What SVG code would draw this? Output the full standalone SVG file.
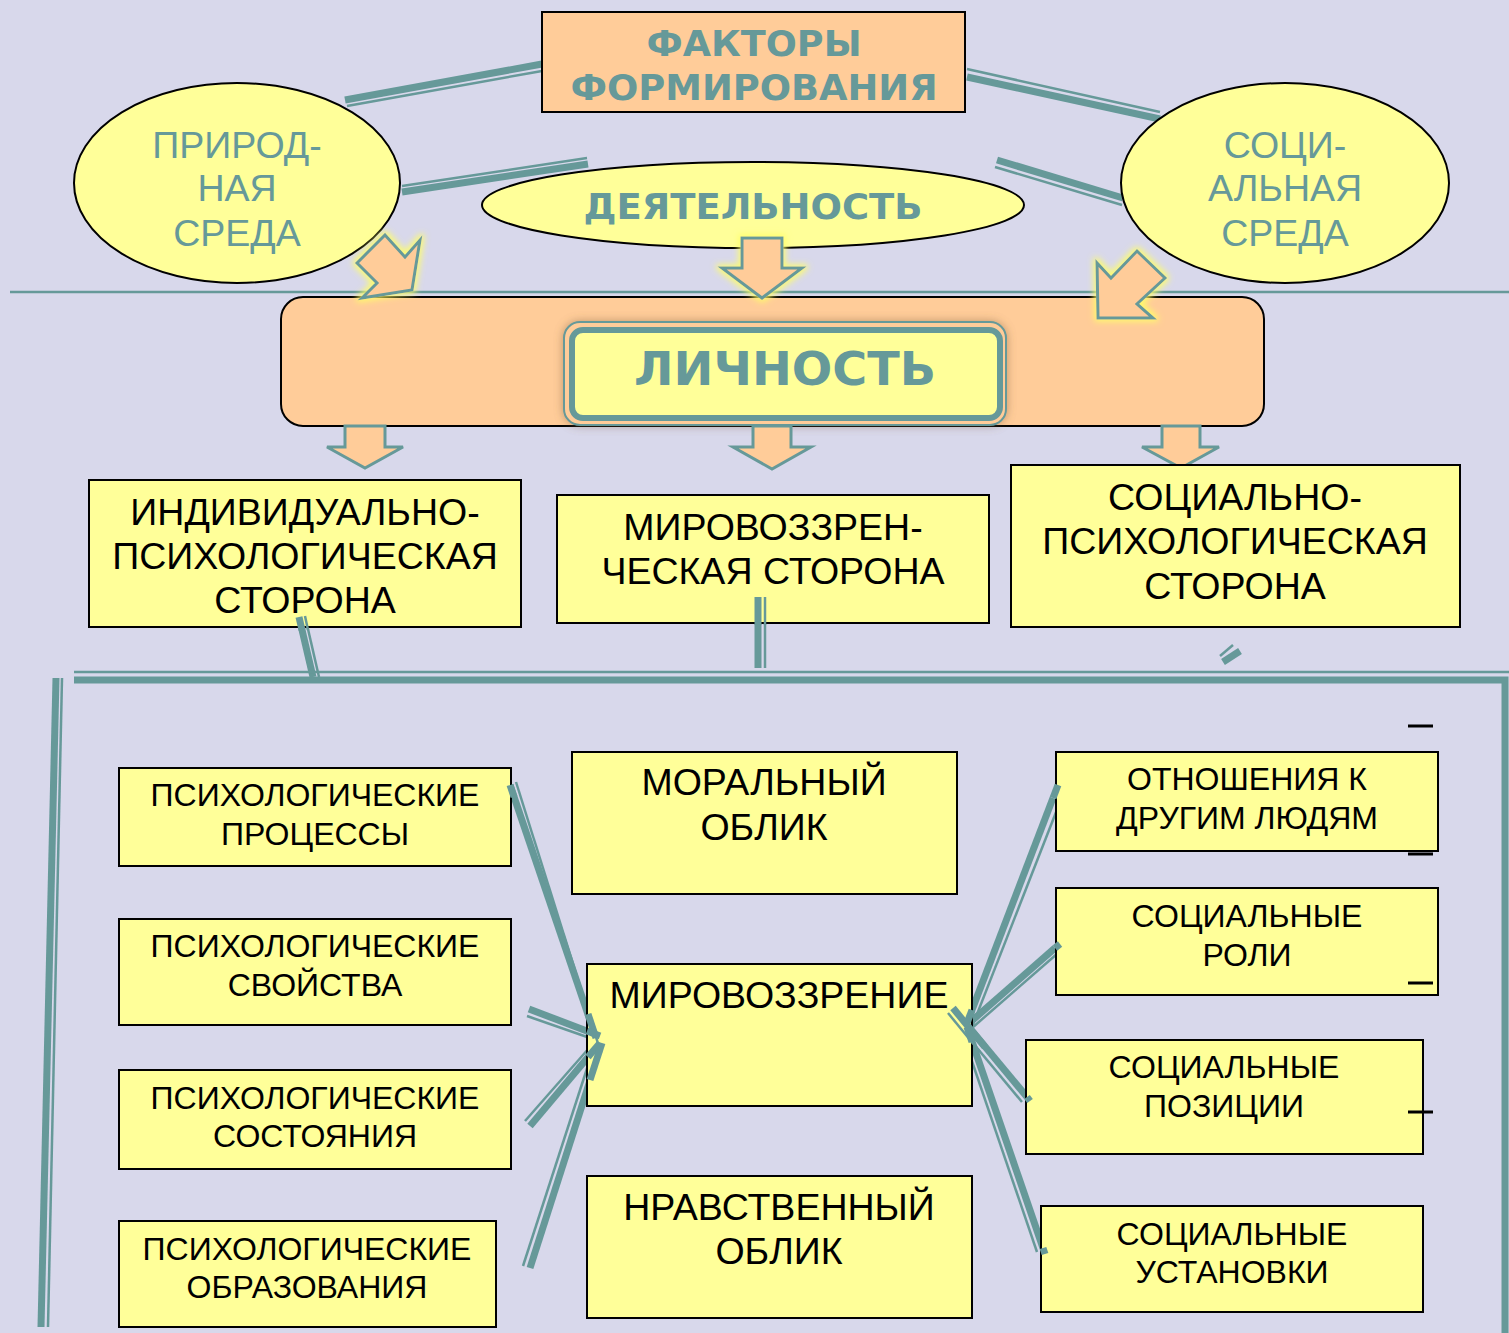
<svg xmlns="http://www.w3.org/2000/svg" width="1509" height="1333" viewBox="0 0 1509 1333">
<defs>
<style>
.bg{fill:#D8D8EB}
.box{fill:#FFFF99;stroke:#000;stroke-width:2}
.peach{fill:#FFCC99;stroke:#000;stroke-width:2}
.ell{fill:#FFFF99;stroke:#000;stroke-width:2}
.thick{stroke:#669999;stroke-width:7;fill:none}
.thin{stroke:#669999;stroke-width:2.5;fill:none}
.arr{fill:#FFCC99;stroke:#669999;stroke-width:3;stroke-linejoin:miter}
.t{font-family:"Liberation Sans",Arial,sans-serif;fill:#000;text-anchor:middle}
.big{font-size:37.5px}
.sm{font-size:32px}
.tl{font-family:"Liberation Sans",Arial,sans-serif;fill:#669999;text-anchor:middle;font-size:37.5px}
.tb{font-family:"DejaVu Sans","Liberation Sans",sans-serif;font-weight:bold;fill:#669999;text-anchor:middle}
.dash{stroke:#000;stroke-width:3}
</style>
<filter id="glow" x="-40%" y="-40%" width="180%" height="180%">
<feMorphology in="SourceAlpha" operator="dilate" radius="2" result="d"/>
<feGaussianBlur in="d" stdDeviation="3" result="b"/>
<feFlood flood-color="#FFFF66" flood-opacity="0.9"/>
<feComposite in2="b" operator="in" result="g"/>
<feMerge><feMergeNode in="g"/><feMergeNode in="SourceGraphic"/></feMerge>
</filter>
<filter id="shadow" x="-10%" y="-20%" width="120%" height="140%">
<feGaussianBlur in="SourceAlpha" stdDeviation="5" result="b"/>
<feFlood flood-color="#806040" flood-opacity="0.5"/>
<feComposite in2="b" operator="in" result="s"/>
<feMerge><feMergeNode in="s"/><feMergeNode in="SourceGraphic"/></feMerge>
</filter>
</defs>
<rect class="bg" x="0" y="0" width="1509" height="1333"/>
<line x1="10" y1="292" x2="1509" y2="292" class="thin" stroke-width="2"/>

<g id="connectors">
<line class="thick" x1="345" y1="100" x2="542" y2="64"/>
<line class="thin" x1="347" y1="106" x2="542" y2="71"/>
<line class="thin" x1="967" y1="69" x2="1160" y2="112"/>
<line class="thick" x1="967" y1="77" x2="1160" y2="119"/>
<line class="thin" x1="402" y1="186" x2="587" y2="158"/>
<line class="thick" x1="402" y1="192" x2="588" y2="164"/>
<line class="thick" x1="997" y1="160" x2="1123" y2="198"/>
<line class="thin" x1="995" y1="167" x2="1122" y2="205"/>
<line class="thick" x1="299" y1="617" x2="313" y2="677"/>
<line class="thin" x1="305" y1="616" x2="319" y2="677"/>
<line class="thick" x1="758" y1="597" x2="758" y2="668"/>
<line class="thin" x1="765" y1="597" x2="765" y2="668"/>
<line class="thick" x1="1223" y1="662" x2="1240" y2="651"/>
<line class="thin" x1="1220" y1="656" x2="1233" y2="645"/>
<line class="thin" x1="74" y1="672" x2="1509" y2="672"/>
<path class="thick" d="M74 680 H1505 V1333"/>
<line class="thick" x1="56" y1="678" x2="41" y2="1327"/>
<line class="thin" x1="62" y1="678" x2="48" y2="1327"/>
<line class="thick" x1="510" y1="785" x2="596" y2="1038"/>
<line class="thin" x1="516" y1="782" x2="601" y2="1053"/>
<line class="thick" x1="529" y1="1009" x2="600" y2="1036"/>
<line class="thin" x1="527" y1="1016" x2="590" y2="1038"/>
<line class="thick" x1="530" y1="1126" x2="600" y2="1043"/>
<line class="thin" x1="525" y1="1121" x2="590" y2="1047"/>
<line class="thick" x1="530" y1="1268" x2="602" y2="1043"/>
<line class="thin" x1="523" y1="1266" x2="593" y2="1050"/>
<line class="thick" x1="1053" y1="798" x2="967" y2="1023"/>
<line class="thin" x1="1060" y1="802" x2="972" y2="1027"/>
<line class="thick" x1="1055" y1="948" x2="967" y2="1025"/>
<line class="thin" x1="1058" y1="953" x2="972" y2="1028"/>
<line class="thick" x1="953" y1="1008" x2="1027" y2="1097"/>
<line class="thin" x1="948" y1="1013" x2="1022" y2="1102"/>
<line class="thick" x1="967" y1="1027" x2="1043" y2="1248"/>
<line class="thin" x1="962" y1="1032" x2="1037" y2="1252"/>
</g>

<g id="factors">
<rect class="peach" x="542" y="12" width="423" height="100"/>
<text class="tb" x="754" y="56" font-size="36" textLength="215" lengthAdjust="spacingAndGlyphs">ФАКТОРЫ</text>
<text class="tb" x="754" y="100" font-size="36" textLength="367" lengthAdjust="spacingAndGlyphs">ФОРМИРОВАНИЯ</text>
</g>

<g id="natural">
<ellipse class="ell" cx="237" cy="183" rx="163" ry="100"/>
<text class="tl" x="237" y="158">ПРИРОД-</text>
<text class="tl" x="237" y="201">НАЯ</text>
<text class="tl" x="237" y="246">СРЕДА</text>
</g>

<g id="social">
<ellipse class="ell" cx="1285" cy="183" rx="164" ry="100"/>
<text class="tl" x="1285" y="158">СОЦИ-</text>
<text class="tl" x="1285" y="201">АЛЬНАЯ</text>
<text class="tl" x="1285" y="246">СРЕДА</text>
</g>

<g id="activity">
<ellipse class="ell" cx="753" cy="205" rx="271" ry="43"/>
<text class="tb" x="753" y="219" font-size="36" textLength="339" lengthAdjust="spacingAndGlyphs">ДЕЯТЕЛЬНОСТЬ</text>
</g>

<g id="personality">
<rect class="peach" x="281" y="297" width="983" height="129" rx="22"/>
<g filter="url(#shadow)">
<rect x="564" y="322" width="442" height="103" rx="16" fill="#FFCC99" stroke="#669999" stroke-width="2"/>
</g>
<rect x="572" y="330" width="428" height="88" rx="11" fill="#FFFF99" stroke="#669999" stroke-width="6"/>
<text class="tb" x="785" y="385" font-size="46" textLength="302" lengthAdjust="spacingAndGlyphs">ЛИЧНОСТЬ</text>
</g>

<g id="arrows" filter="url(#glow)">
<polygon class="arr" points="742,238 782,238 782,268 802,268 762,298 722,268 742,268"/>
<polygon class="arr" points="385,235 405,257 420,240 412,290 362,298 377,283 357,263"/>
<polygon class="arr" points="1137,251 1165,278 1137,304 1153,318 1098,318 1097,263 1111,278"/>
</g>
<g id="arrows-down">
<polygon class="arr" points="345,426 385,426 385,447 403,447 365,468 327,447 345,447"/>
<polygon class="arr" points="753,426 791,426 791,447 811,447 772,469 733,447 753,447"/>
<polygon class="arr" points="1162,426 1200,426 1200,447 1219,447 1181,468 1142,447 1162,447"/>
</g>

<g id="individual">
<rect class="box" x="89" y="480" width="432" height="147"/>
<text class="t big" x="305" y="525">ИНДИВИДУАЛЬНО-</text>
<text class="t big" x="305" y="569">ПСИХОЛОГИЧЕСКАЯ</text>
<text class="t big" x="305" y="613">СТОРОНА</text>
</g>
<g id="worldview-side">
<rect class="box" x="557" y="495" width="432" height="128"/>
<text class="t big" x="773" y="540">МИРОВОЗЗРЕН-</text>
<text class="t big" x="773" y="584">ЧЕСКАЯ СТОРОНА</text>
</g>
<g id="socpsy">
<rect class="box" x="1011" y="465" width="449" height="162"/>
<text class="t big" x="1235" y="510">СОЦИАЛЬНО-</text>
<text class="t big" x="1235" y="554">ПСИХОЛОГИЧЕСКАЯ</text>
<text class="t big" x="1235" y="599">СТОРОНА</text>
</g>
<g id="stubs">
<line class="thick" x1="299" y1="617" x2="302" y2="630"/>
<line class="thin" x1="305" y1="616" x2="308" y2="630"/>
<line class="thick" x1="758" y1="597" x2="758" y2="625"/>
<line class="thin" x1="765" y1="597" x2="765" y2="625"/>
</g>

<g id="proc">
<rect class="box" x="119" y="768" width="392" height="98"/>
<text class="t sm" x="315" y="806">ПСИХОЛОГИЧЕСКИЕ</text>
<text class="t sm" x="315" y="845">ПРОЦЕССЫ</text>
</g>
<g id="props">
<rect class="box" x="119" y="919" width="392" height="106"/>
<text class="t sm" x="315" y="957">ПСИХОЛОГИЧЕСКИЕ</text>
<text class="t sm" x="315" y="996">СВОЙСТВА</text>
</g>
<g id="states">
<rect class="box" x="119" y="1070" width="392" height="99"/>
<text class="t sm" x="315" y="1109">ПСИХОЛОГИЧЕСКИЕ</text>
<text class="t sm" x="315" y="1147">СОСТОЯНИЯ</text>
</g>
<g id="formations">
<rect class="box" x="119" y="1221" width="377" height="106"/>
<text class="t sm" x="307" y="1260">ПСИХОЛОГИЧЕСКИЕ</text>
<text class="t sm" x="307" y="1298">ОБРАЗОВАНИЯ</text>
</g>
<g id="moral">
<rect class="box" x="572" y="752" width="385" height="142"/>
<text class="t big" x="764" y="795">МОРАЛЬНЫЙ</text>
<text class="t big" x="764" y="840">ОБЛИК</text>
</g>
<g id="worldview">
<rect class="box" x="587" y="964" width="385" height="142"/>
<text class="t big" x="779" y="1008">МИРОВОЗЗРЕНИЕ</text>
</g>
<g id="ethical">
<rect class="box" x="587" y="1176" width="385" height="142"/>
<text class="t big" x="779" y="1220">НРАВСТВЕННЫЙ</text>
<text class="t big" x="779" y="1264">ОБЛИК</text>
</g>
<g id="relations">
<rect class="box" x="1056" y="752" width="382" height="99"/>
<text class="t sm" x="1247" y="790">ОТНОШЕНИЯ К</text>
<text class="t sm" x="1247" y="829">ДРУГИМ ЛЮДЯМ</text>
</g>
<g id="roles">
<rect class="box" x="1056" y="888" width="382" height="107"/>
<text class="t sm" x="1247" y="927">СОЦИАЛЬНЫЕ</text>
<text class="t sm" x="1247" y="966">РОЛИ</text>
</g>
<g id="positions">
<rect class="box" x="1026" y="1040" width="397" height="114"/>
<text class="t sm" x="1224" y="1078">СОЦИАЛЬНЫЕ</text>
<text class="t sm" x="1224" y="1117">ПОЗИЦИИ</text>
</g>
<g id="attitudes">
<rect class="box" x="1041" y="1206" width="382" height="106"/>
<text class="t sm" x="1232" y="1245">СОЦИАЛЬНЫЕ</text>
<text class="t sm" x="1232" y="1283">УСТАНОВКИ</text>
</g>

<g id="overlaps">
<line class="thick" x1="510" y1="785" x2="514" y2="797"/>
<line class="thick" x1="596" y1="1038" x2="588" y2="1014"/>
<line class="thin" x1="601" y1="1053" x2="590" y2="1018"/>
<line class="thick" x1="600" y1="1036" x2="587" y2="1031"/>
<line class="thick" x1="600" y1="1043" x2="588" y2="1057"/>
<line class="thick" x1="602" y1="1043" x2="590" y2="1080"/>
<line class="thick" x1="967" y1="1023" x2="972" y2="1010"/>
<line class="thick" x1="953" y1="1008" x2="985" y2="1047"/>
<line class="thin" x1="948" y1="1013" x2="980" y2="1052"/>
<line class="thick" x1="967" y1="1027" x2="972" y2="1042"/>
<line class="thick" x1="1053" y1="798" x2="1058" y2="785"/>
<line class="thick" x1="1055" y1="948" x2="1060" y2="944"/>
<line class="thick" x1="1027" y1="1097" x2="1030" y2="1101"/>
<line class="thick" x1="1043" y1="1248" x2="1045" y2="1254"/>
</g>

<g id="dashes">
<line class="dash" x1="1408" y1="726" x2="1433" y2="726"/>
<line class="dash" x1="1408" y1="854" x2="1433" y2="854"/>
<line class="dash" x1="1408" y1="983" x2="1433" y2="983"/>
<line class="dash" x1="1408" y1="1112" x2="1433" y2="1112"/>
</g>
</svg>
